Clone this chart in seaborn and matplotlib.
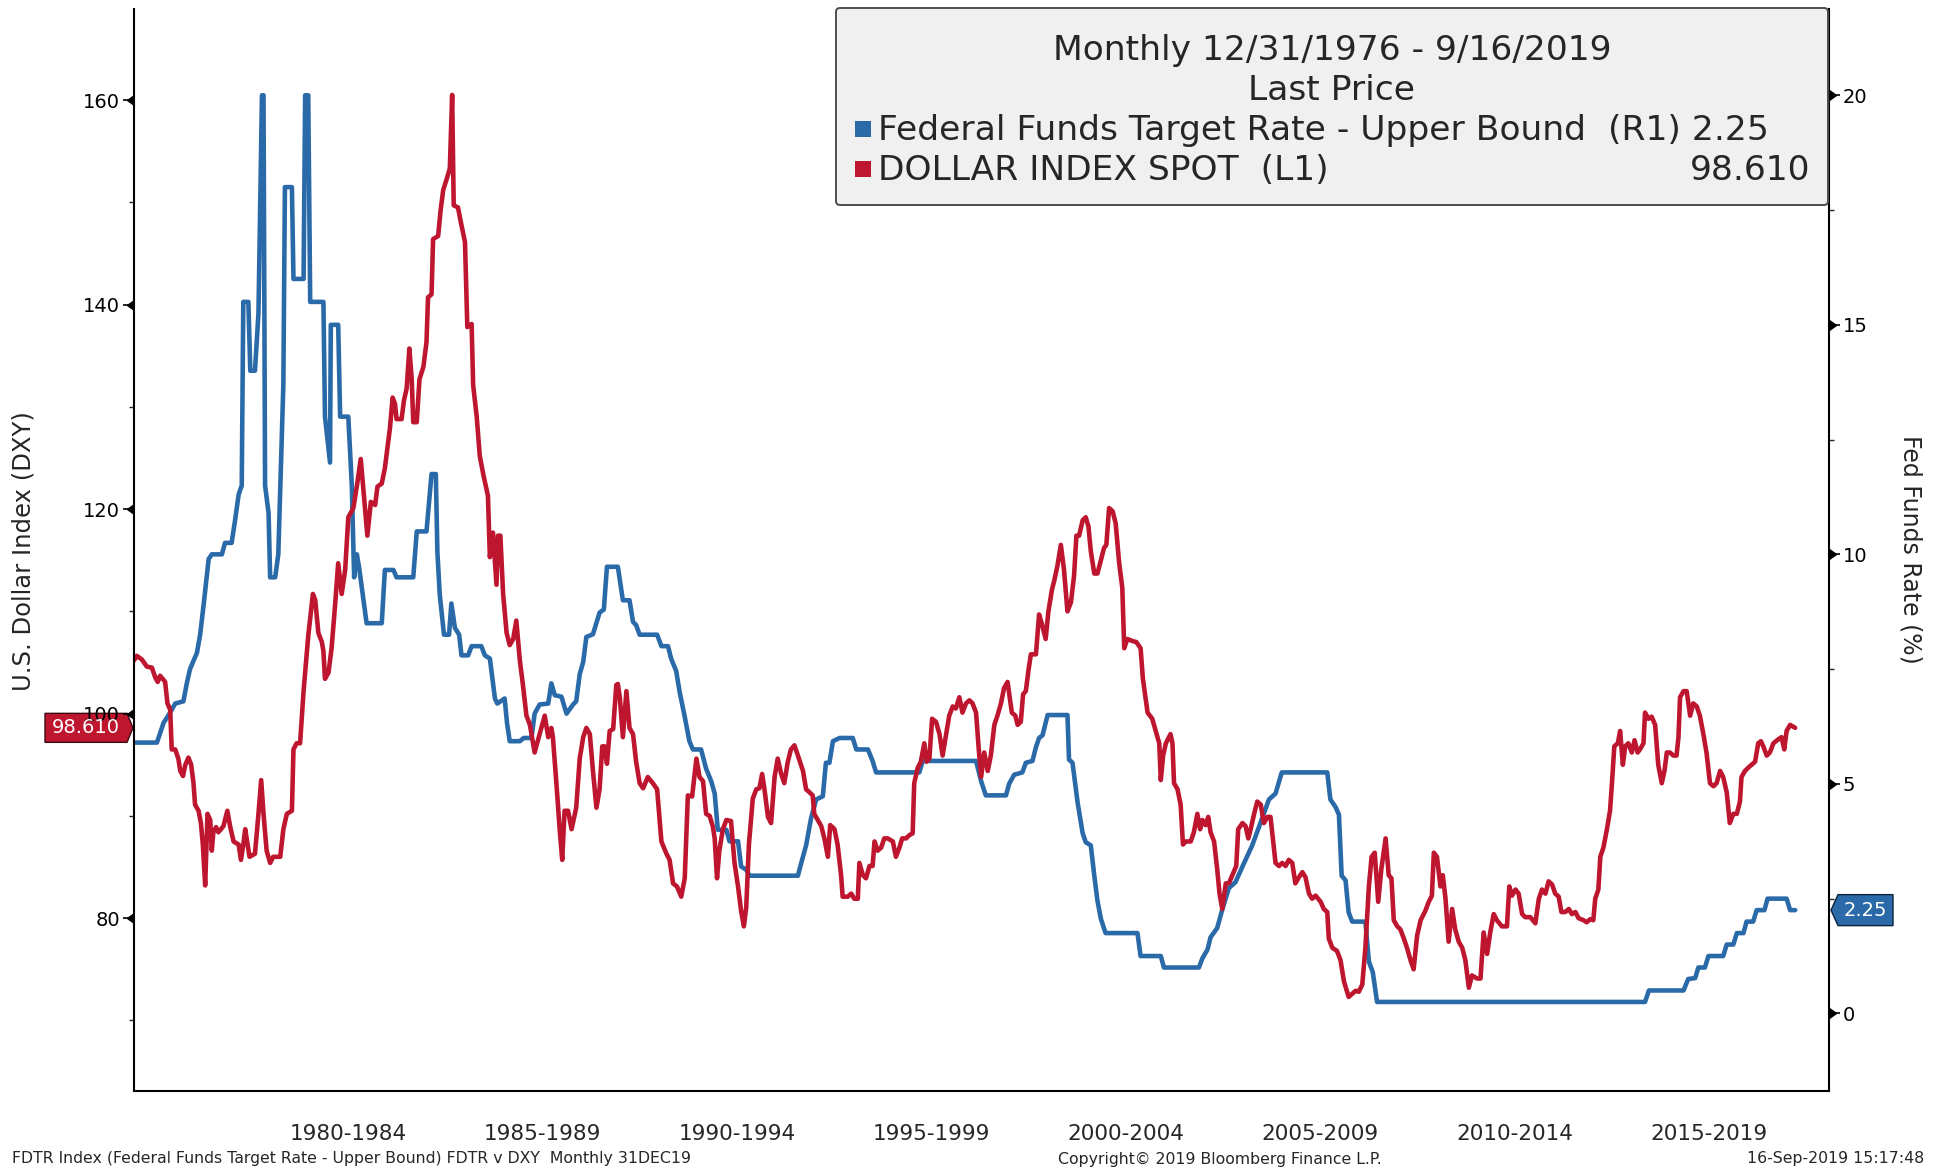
import numpy as np
import pandas as pd
import matplotlib
matplotlib.use("Agg")
import matplotlib.pyplot as plt
import seaborn as sns
from matplotlib.patches import Polygon, Rectangle, FancyBboxPatch
from matplotlib.transforms import IdentityTransform

# Fed funds target rate, upper bound (%), decimal years
fed_t = [1977.00, 1977.59, 1977.76, 1977.89, 1978.06, 1978.27, 1978.36, 1978.44, 1978.62, 1978.70,
         1978.79, 1978.92, 1979.00, 1979.26, 1979.34, 1979.51, 1979.60, 1979.69, 1979.77, 1979.81,
         1979.94, 1979.99, 1980.11, 1980.20, 1980.29, 1980.33, 1980.37, 1980.46, 1980.50, 1980.63,
         1980.71, 1980.84, 1980.88, 1981.06, 1981.10, 1981.36, 1981.40, 1981.48, 1981.53, 1981.87,
         1981.91, 1982.04, 1982.06, 1982.25, 1982.30, 1982.51, 1982.60, 1982.66, 1982.73, 1982.79,
         1982.98, 1983.37, 1983.45, 1983.67, 1983.75, 1984.18, 1984.27, 1984.52, 1984.65, 1984.76,
         1984.80, 1984.86, 1984.97, 1985.10, 1985.16, 1985.25, 1985.36, 1985.42, 1985.59, 1985.68,
         1985.93, 1986.02, 1986.15, 1986.28, 1986.34, 1986.53, 1986.59, 1986.66, 1986.92, 1987.02,
         1987.22, 1987.30, 1987.43, 1987.65, 1987.73, 1987.82, 1987.99, 1988.12, 1988.29, 1988.37,
         1988.46, 1988.55, 1988.63, 1988.80, 1988.97, 1989.08, 1989.16, 1989.44, 1989.57, 1989.74,
         1989.83, 1989.91, 1990.00, 1990.45, 1990.56, 1990.73, 1990.81, 1990.94, 1991.03, 1991.16,
         1991.28, 1991.37, 1991.58, 1991.71, 1991.84, 1991.93, 1992.01, 1992.23, 1992.31, 1992.53,
         1992.61, 1992.74, 1992.83, 1994.07, 1994.15, 1994.28, 1994.41, 1994.54, 1994.71, 1994.79,
         1994.88, 1994.97, 1995.14, 1995.48, 1995.57, 1995.87, 1995.99, 1996.08, 1997.19, 1997.28,
         1998.65, 1998.78, 1998.90, 1999.42, 1999.50, 1999.63, 1999.84, 1999.93, 2000.10, 2000.19,
         2000.27, 2000.36, 2000.49, 2001.00, 2001.04, 2001.13, 2001.26, 2001.39, 2001.47, 2001.60,
         2001.69, 2001.77, 2001.86, 2001.98, 2002.80, 2002.88, 2003.40, 2003.48, 2004.38, 2004.47,
         2004.60, 2004.68, 2004.85, 2004.98, 2005.15, 2005.32, 2005.50, 2005.75, 2006.01, 2006.18,
         2006.35, 2006.51, 2007.68, 2007.76, 2007.89, 2007.98, 2008.05, 2008.15, 2008.23, 2008.32,
         2008.66, 2008.75, 2008.85, 2008.96, 2015.85, 2015.95, 2016.84, 2016.96, 2017.14, 2017.22,
         2017.39, 2017.48, 2017.86, 2017.95, 2018.12, 2018.21, 2018.38, 2018.46, 2018.63, 2018.72,
         2018.92, 2019.00, 2019.49, 2019.58, 2019.71]
fed_v = [5.9, 5.9, 6.33, 6.5, 6.75, 6.8, 7.2, 7.5, 7.86, 8.25,
         8.9, 9.9, 10.0, 10.0, 10.25, 10.25, 10.75, 11.3, 11.5, 15.5,
         15.5, 14.0, 14.0, 15.25, 20.0, 20.0, 11.5, 10.9, 9.5, 9.5,
         10.0, 13.7, 18.0, 18.0, 16.0, 16.0, 20.0, 20.0, 15.5, 15.5,
         13.0, 12.0, 15.0, 15.0, 13.0, 13.0, 11.5, 9.5, 10.0, 9.7,
         8.5, 8.5, 9.66, 9.66, 9.5, 9.5, 10.5, 10.5, 11.75, 11.75,
         10.06, 9.13, 8.25, 8.25, 8.93, 8.4, 8.25, 7.8, 7.8, 8.0,
         8.0, 7.8, 7.73, 6.86, 6.75, 6.86, 6.33, 5.93, 5.93, 6.0,
         6.0, 6.53, 6.73, 6.75, 7.19, 6.93, 6.9, 6.53, 6.73, 6.8,
         7.39, 7.66, 8.2, 8.26, 8.73, 8.8, 9.73, 9.73, 9.0, 9.0,
         8.53, 8.46, 8.25, 8.25, 8.0, 8.0, 7.73, 7.46, 7.0, 6.46,
         5.93, 5.75, 5.75, 5.33, 5.06, 4.79, 4.0, 4.0, 3.75, 3.75,
         3.2, 3.13, 3.0, 3.0, 3.26, 3.66, 4.26, 4.66, 4.73, 5.46,
         5.46, 5.93, 6.0, 6.0, 5.75, 5.75, 5.5, 5.25, 5.25, 5.5,
         5.5, 5.06, 4.75, 4.75, 5.0, 5.2, 5.25, 5.46, 5.5, 5.8,
         6.0, 6.06, 6.5, 6.5, 5.53, 5.46, 4.6, 3.93, 3.73, 3.66,
         3.0, 2.46, 2.06, 1.75, 1.75, 1.25, 1.25, 1.0, 1.0, 1.2,
         1.39, 1.66, 1.86, 2.26, 2.73, 2.86, 3.2, 3.66, 4.26, 4.66,
         4.79, 5.25, 5.25, 4.66, 4.5, 4.33, 3.0, 2.9, 2.2, 2.0,
         2.0, 1.13, 0.9, 0.25, 0.25, 0.5, 0.5, 0.75, 0.77, 1.0,
         1.0, 1.25, 1.25, 1.5, 1.5, 1.75, 1.75, 2.0, 2.0, 2.25,
         2.25, 2.5, 2.5, 2.25, 2.25]

# Dollar index spot, decimal years
dxy_t = [1977.00, 1977.07, 1977.20, 1977.33, 1977.46, 1977.55, 1977.61, 1977.67, 1977.76, 1977.80,
         1977.86, 1977.93, 1977.97, 1978.06, 1978.14, 1978.19, 1978.26, 1978.32, 1978.40, 1978.47,
         1978.53, 1978.57, 1978.66, 1978.72, 1978.77, 1978.83, 1978.89, 1978.96, 1979.00, 1979.04,
         1979.11, 1979.17, 1979.30, 1979.40, 1979.47, 1979.56, 1979.69, 1979.75, 1979.81, 1979.86,
         1979.92, 1979.97, 1980.11, 1980.20, 1980.27, 1980.33, 1980.41, 1980.50, 1980.58, 1980.76,
         1980.84, 1980.93, 1981.06, 1981.10, 1981.18, 1981.27, 1981.36, 1981.48, 1981.60, 1981.66,
         1981.74, 1981.83, 1981.87, 1981.91, 1982.00, 1982.08, 1982.17, 1982.25, 1982.34, 1982.43,
         1982.51, 1982.64, 1982.74, 1982.83, 1982.94, 1983.00, 1983.09, 1983.20, 1983.26, 1983.37,
         1983.45, 1983.58, 1983.65, 1983.71, 1983.75, 1983.88, 1983.94, 1984.01, 1984.08, 1984.14,
         1984.18, 1984.27, 1984.34, 1984.44, 1984.52, 1984.56, 1984.65, 1984.69, 1984.82, 1984.88,
         1984.95, 1985.05, 1985.12, 1985.18, 1985.22, 1985.33, 1985.38, 1985.51, 1985.57, 1985.68,
         1985.72, 1985.81, 1985.89, 1985.98, 1986.10, 1986.15, 1986.23, 1986.32, 1986.36, 1986.42,
         1986.49, 1986.58, 1986.66, 1986.75, 1986.83, 1986.92, 1987.00, 1987.09, 1987.18, 1987.30,
         1987.43, 1987.56, 1987.65, 1987.73, 1987.77, 1987.86, 1987.95, 1988.01, 1988.07, 1988.16,
         1988.25, 1988.37, 1988.46, 1988.55, 1988.63, 1988.72, 1988.80, 1988.89, 1988.97, 1989.04,
         1989.10, 1989.16, 1989.23, 1989.32, 1989.40, 1989.44, 1989.49, 1989.57, 1989.66, 1989.74,
         1989.83, 1989.91, 1990.00, 1990.09, 1990.21, 1990.34, 1990.45, 1990.56, 1990.69, 1990.77,
         1990.86, 1990.96, 1991.07, 1991.16, 1991.24, 1991.35, 1991.46, 1991.54, 1991.63, 1991.71,
         1991.80, 1991.88, 1991.93, 1991.99, 1992.05, 1992.14, 1992.23, 1992.35, 1992.44, 1992.53,
         1992.61, 1992.68, 1992.74, 1992.81, 1992.91, 1993.00, 1993.08, 1993.15, 1993.21, 1993.30,
         1993.38, 1993.47, 1993.55, 1993.64, 1993.72, 1993.81, 1993.89, 1993.98, 1994.07, 1994.20,
         1994.28, 1994.37, 1994.45, 1994.49, 1994.58, 1994.67, 1994.75, 1994.84, 1994.90, 1995.01,
         1995.09, 1995.18, 1995.22, 1995.35, 1995.44, 1995.52, 1995.61, 1995.65, 1995.74, 1995.82,
         1995.91, 1995.99, 1996.04, 1996.12, 1996.21, 1996.29, 1996.38, 1996.51, 1996.59, 1996.68,
         1996.75, 1996.85, 1996.93, 1997.02, 1997.06, 1997.15, 1997.23, 1997.32, 1997.38, 1997.45,
         1997.52, 1997.62, 1997.71, 1997.79, 1997.88, 1997.96, 1998.05, 1998.13, 1998.22, 1998.30,
         1998.39, 1998.48, 1998.56, 1998.65, 1998.72, 1998.78, 1998.86, 1998.95, 1999.03, 1999.12,
         1999.20, 1999.29, 1999.37, 1999.46, 1999.57, 1999.66, 1999.72, 1999.80, 1999.86, 1999.93,
         2000.00, 2000.06, 2000.19, 2000.27, 2000.34, 2000.40, 2000.44, 2000.51, 2000.60, 2000.66,
         2000.74, 2000.83, 2000.91, 2001.00, 2001.09, 2001.17, 2001.23, 2001.30, 2001.39, 2001.47,
         2001.54, 2001.60, 2001.69, 2001.77, 2001.86, 2001.94, 2002.00, 2002.07, 2002.16, 2002.24,
         2002.33, 2002.41, 2002.46, 2002.54, 2002.67, 2002.77, 2002.88, 2002.94, 2003.06, 2003.18,
         2003.27, 2003.36, 2003.40, 2003.46, 2003.53, 2003.57, 2003.65, 2003.70, 2003.74, 2003.83,
         2003.91, 2003.97, 2004.04, 2004.17, 2004.25, 2004.34, 2004.41, 2004.47, 2004.55, 2004.62,
         2004.68, 2004.77, 2004.85, 2004.91, 2004.98, 2005.07, 2005.15, 2005.24, 2005.34, 2005.39,
         2005.50, 2005.58, 2005.65, 2005.71, 2005.80, 2005.88, 2005.97, 2006.05, 2006.14, 2006.22,
         2006.28, 2006.35, 2006.44, 2006.52, 2006.61, 2006.69, 2006.78, 2006.86, 2006.95, 2007.04,
         2007.12, 2007.21, 2007.29, 2007.38, 2007.51, 2007.59, 2007.68, 2007.72, 2007.81, 2007.93,
         2008.02, 2008.11, 2008.23, 2008.32, 2008.41, 2008.49, 2008.58, 2008.66, 2008.75, 2008.82,
         2008.90, 2008.99, 2009.07, 2009.18, 2009.26, 2009.33, 2009.39, 2009.48, 2009.56, 2009.65,
         2009.73, 2009.82, 2009.90, 2009.99, 2010.08, 2010.20, 2010.29, 2010.37, 2010.42, 2010.50,
         2010.59, 2010.65, 2010.72, 2010.80, 2010.89, 2010.97, 2011.06, 2011.15, 2011.23, 2011.32,
         2011.40, 2011.53, 2011.62, 2011.70, 2011.79, 2011.87, 2011.96, 2012.04, 2012.17, 2012.30,
         2012.36, 2012.43, 2012.52, 2012.60, 2012.69, 2012.77, 2012.90, 2013.03, 2013.12, 2013.20,
         2013.29, 2013.37, 2013.46, 2013.54, 2013.63, 2013.70, 2013.80, 2013.89, 2013.97, 2014.06,
         2014.14, 2014.27, 2014.35, 2014.44, 2014.52, 2014.57, 2014.65, 2014.70, 2014.78, 2014.87,
         2014.95, 2015.00, 2015.06, 2015.15, 2015.21, 2015.28, 2015.34, 2015.42, 2015.51, 2015.58,
         2015.66, 2015.72, 2015.81, 2015.85, 2015.94, 2016.02, 2016.11, 2016.19, 2016.28, 2016.35,
         2016.41, 2016.49, 2016.58, 2016.66, 2016.71, 2016.75, 2016.84, 2016.92, 2017.01, 2017.09,
         2017.18, 2017.26, 2017.35, 2017.43, 2017.52, 2017.61, 2017.69, 2017.78, 2017.86, 2017.95,
         2018.03, 2018.12, 2018.21, 2018.29, 2018.33, 2018.42, 2018.50, 2018.59, 2018.68, 2018.76,
         2018.83, 2018.89, 2018.98, 2019.06, 2019.15, 2019.28, 2019.36, 2019.43, 2019.49, 2019.58,
         2019.71]
dxy_v = [105.2, 105.65, 105.3, 104.6, 104.5, 103.5, 103.1, 103.7, 103.3, 103.1,
         101.0, 100.4, 96.5, 96.5, 95.6, 94.4, 93.9, 95.0, 95.7, 95.0,
         93.2, 91.1, 90.5, 89.3, 87.2, 83.2, 90.2, 89.6, 86.6, 88.4,
         88.9, 88.4, 89.0, 90.5, 89.0, 87.5, 87.2, 85.7, 87.2, 88.7,
         87.2, 86.0, 86.3, 90.2, 93.5, 90.2, 86.6, 85.4, 86.0, 86.0,
         88.7, 90.2, 90.5, 96.5, 97.1, 97.1, 102.2, 107.6, 111.7, 111.1,
         107.9, 107.0, 106.1, 103.4, 104.0, 106.4, 110.6, 114.7, 111.7, 114.1,
         119.2, 120.1, 122.5, 124.9, 120.1, 117.4, 120.7, 120.4, 122.2, 122.5,
         124.0, 127.9, 130.9, 130.3, 128.8, 128.8, 130.6, 131.8, 135.7, 132.7,
         128.5, 128.5, 132.7, 133.9, 136.3, 140.7, 141.0, 146.4, 146.7, 149.1,
         151.2, 152.4, 153.3, 160.5, 149.7, 149.5, 148.5, 146.1, 137.8, 138.1,
         132.1, 129.1, 125.2, 123.4, 121.3, 115.3, 117.7, 112.6, 117.4, 117.4,
         111.7, 107.9, 106.7, 107.3, 109.1, 105.2, 102.8, 99.8, 98.9, 96.2,
         98.0, 99.8, 97.7, 98.6, 97.7, 93.2, 88.4, 85.7, 90.5, 90.5,
         88.7, 90.8, 95.6, 97.7, 98.6, 98.0, 94.4, 90.8, 92.6, 96.8,
         96.8, 95.1, 98.3, 98.5, 102.8, 102.9, 101.6, 97.7, 102.2, 98.6,
         98.0, 95.3, 93.2, 92.7, 93.8, 93.2, 92.6, 87.5, 86.3, 85.7,
         83.4, 83.1, 82.1, 83.9, 92.0, 91.9, 95.6, 93.8, 93.4, 90.2,
         90.0, 89.0, 87.8, 83.9, 86.6, 88.7, 89.6, 89.5, 85.4, 83.1,
         80.7, 79.2, 81.0, 87.2, 91.7, 92.6, 92.7, 94.1, 92.6, 89.9,
         89.3, 93.8, 95.6, 94.1, 93.2, 95.3, 96.5, 96.9, 95.9, 94.4,
         92.6, 92.3, 92.0, 90.2, 89.6, 89.0, 87.8, 86.0, 89.1, 88.7,
         87.2, 84.2, 82.1, 82.1, 82.4, 81.9, 81.9, 85.4, 84.2, 83.9,
         85.1, 85.1, 87.5, 86.6, 86.9, 87.8, 87.8, 87.5, 86.0, 86.9,
         87.8, 87.8, 88.1, 88.3, 93.2, 94.7, 95.3, 97.1, 95.3, 95.6,
         99.5, 99.2, 98.0, 95.9, 98.0, 99.8, 100.7, 100.5, 101.6, 100.1,
         101.0, 101.3, 101.0, 100.1, 96.5, 93.8, 96.2, 94.4, 95.9, 98.9,
         99.8, 101.0, 102.5, 103.1, 100.1, 99.8, 98.9, 99.2, 101.9, 102.2,
         104.3, 105.8, 105.8, 109.7, 108.8, 107.9, 107.3, 110.0, 112.1, 113.0,
         114.4, 116.5, 114.1, 110.0, 110.9, 113.5, 117.4, 117.4, 118.9, 119.2,
         118.3, 115.9, 113.7, 113.7, 115.0, 116.2, 116.5, 120.1, 119.8, 118.6,
         114.7, 112.3, 106.4, 107.3, 107.1, 107.0, 106.4, 103.4, 100.1, 99.5,
         98.3, 97.1, 93.5, 95.9, 97.1, 97.4, 98.0, 97.1, 93.2, 92.6,
         91.1, 87.2, 87.5, 87.5, 88.4, 90.2, 88.7, 89.6, 89.1, 89.9,
         88.4, 87.5, 84.8, 82.4, 80.9, 83.4, 83.4, 84.2, 85.1, 88.7,
         89.3, 89.0, 87.8, 88.7, 90.2, 91.4, 91.1, 89.3, 89.9, 89.9,
         87.8, 85.4, 85.1, 85.4, 85.1, 85.7, 85.4, 83.4, 84.0, 84.5,
         84.0, 82.4, 81.9, 82.2, 81.6, 80.9, 80.6, 78.0, 77.1, 76.8,
         75.9, 73.8, 72.3, 72.6, 72.9, 72.8, 73.5, 77.1, 83.1, 86.0,
         86.4, 81.6, 84.8, 87.8, 84.2, 83.9, 79.8, 79.2, 78.9, 78.0,
         77.1, 75.9, 75.0, 78.3, 79.8, 80.7, 81.6, 82.2, 86.4, 86.0,
         83.1, 84.2, 81.9, 77.7, 80.9, 78.9, 77.7, 77.1, 75.9, 73.2,
         74.4, 74.1, 74.1, 78.6, 76.5, 78.6, 80.4, 79.8, 79.2, 79.2,
         83.1, 82.2, 82.8, 82.4, 80.4, 80.1, 80.1, 79.5, 81.9, 82.8,
         82.4, 83.6, 83.3, 82.4, 82.1, 80.6, 80.6, 80.9, 80.4, 80.6,
         80.0, 79.8, 79.6, 79.9, 79.8, 81.9, 82.8, 86.0, 86.9, 88.7,
         90.5, 93.2, 96.8, 97.1, 98.3, 95.0, 96.8, 97.1, 96.2, 97.4,
         96.2, 96.5, 97.1, 100.1, 99.5, 99.7, 98.9, 95.0, 93.2, 94.4,
         96.2, 96.2, 95.9, 95.9, 97.7, 101.6, 102.2, 102.2, 99.8, 101.0,
         100.7, 99.8, 98.0, 96.2, 93.2, 92.9, 93.2, 94.4, 93.8, 92.3,
         89.3, 90.2, 90.2, 91.4, 93.8, 94.4, 94.7, 95.0, 95.3, 97.1,
         97.3, 96.8, 95.9, 96.2, 97.1, 97.5, 97.7, 96.5, 98.3, 98.9,
         98.61]

period_centers = [1982.5, 1987.5, 1992.5, 1997.5, 2002.5, 2007.5, 2012.5, 2017.5]
period_labels = ["1980-1984", "1985-1989", "1990-1994", "1995-1999",
                 "2000-2004", "2005-2009", "2010-2014", "2015-2019"]
dxy_ticks = [80, 100, 120, 140, 160]
dxy_minor = [70, 90, 110, 130, 150]
fed_ticks = [0, 5, 10, 15, 20]
fed_minor = [2.5, 7.5, 12.5, 17.5]
last_fed = "2.25"
last_dxy = "98.610"

BLUE = "#2b6aa8"
RED = "#bf1630"

sns.set_style("white")
plt.rcParams["font.family"] = ["DejaVu Sans"]

W, H = 1940, 1168
fig = plt.figure(figsize=(W / 100, H / 100), dpi=100)
L, R, T, B = 134, 1829, 9, 1091
ax = fig.add_axes([L / W, 1 - B / H, (R - L) / W, (B - T) / H])
ax2 = ax.twinx()

dxy = pd.DataFrame({"t": dxy_t, "dxy": dxy_v})
fed = pd.DataFrame({"t": fed_t, "rate": fed_v})
sns.lineplot(data=fed, x="t", y="rate", ax=ax2, color=BLUE, linewidth=3.3)
sns.lineplot(data=dxy, x="t", y="dxy", ax=ax, color=RED, linewidth=3.3)
ax.set_zorder(ax2.get_zorder() + 1)
ax.patch.set_visible(False)

# spines
for a in (ax, ax2):
    for s in a.spines.values():
        s.set_visible(False)
        s.set_color("black")
        s.set_linewidth(1.5)
ax.spines["left"].set_visible(True)
ax.spines["bottom"].set_visible(True)
ax2.spines["right"].set_visible(True)

# y ticks
ax.set_yticks(dxy_ticks)
ax.set_yticks(dxy_minor, minor=True)
ax.tick_params(axis="y", which="major", length=8, width=1.2, labelsize=14, pad=2, colors="black")
ax.tick_params(axis="y", which="minor", length=3.6, width=1)
ax2.set_yticks(fed_ticks)
ax2.set_yticks(fed_minor, minor=True)
ax2.tick_params(axis="y", which="major", length=8, width=1.2, labelsize=14, pad=2, colors="black")
ax2.tick_params(axis="y", which="minor", length=3.6, width=1)
ax.plot(np.zeros(len(dxy_ticks)), dxy_ticks, transform=ax.get_yaxis_transform(), ls="none",
        marker=8, ms=7, color="black", clip_on=False)
ax2.plot(np.ones(len(fed_ticks)), fed_ticks, transform=ax2.get_yaxis_transform(), ls="none",
         marker=9, ms=7, color="black", clip_on=False)

# x ticks: yearly minor, 5-year separators
ax.set_xticks(range(1980, 2021, 5))
ax.set_xticks(range(1977, 2021), minor=True)
ax.tick_params(axis="x", which="major", length=38, width=1, color="#9a9a9a", labelbottom=False)
ax.tick_params(axis="x", which="minor", length=3.6, width=1, color="black")
for c, lab in zip(period_centers, period_labels):
    ax.text(c, -0.0397, lab, transform=ax.get_xaxis_transform(), ha="center", va="center",
            fontsize=15.5)

ax.set_xlim(1977.0, 2020.58)
ax.set_ylim(63.1, 168.9)
ax2.set_ylim(-1.69, 21.88)
ax.set_xlabel("")
ax.set_ylabel("")
ax2.set_ylabel("")

fig.text(24 / W, 1 - 551 / H, "U.S. Dollar Index (DXY)", rotation=90, ha="center", va="center",
         fontsize=17.5)
fig.text(1911 / W, 1 - 549 / H, "Fed Funds Rate (%)", rotation=270, ha="center", va="center",
         fontsize=17)

# last value tags
px = IdentityTransform()
yc = ax.transData.transform((2000, float(last_dxy)))[1]
fig.add_artist(Polygon([(45, yc - 14.5), (127, yc - 14.5), (133, yc), (127, yc + 14.5), (45, yc + 14.5)],
                       closed=True, facecolor=RED, edgecolor="#3a0a10", lw=1, transform=px))
fig.text(86, yc, last_dxy, transform=px, ha="center", va="center", color="white", fontsize=14)
yc2 = ax2.transData.transform((2000, float(last_fed)))[1]
fig.add_artist(Polygon([(1831, yc2), (1838, yc2 + 15.5), (1893, yc2 + 15.5), (1893, yc2 - 15.5), (1838, yc2 - 15.5)],
                       closed=True, facecolor=BLUE, edgecolor="#0d2238", lw=1, transform=px))
fig.text(1865, yc2, last_fed, transform=px, ha="center", va="center", color="white", fontsize=14)

# legend box
fig.add_artist(FancyBboxPatch((836, H - 205), 992, 197, boxstyle="round,pad=0,rounding_size=4",
                              facecolor="#f0f0f0", edgecolor="#4d4d4d", lw=1.4, transform=px))
fs = 24.8
fig.text(1332, H - 60, "Monthly 12/31/1976 - 9/16/2019", transform=px, ha="center", va="baseline", fontsize=fs)
fig.text(1332, H - 100, "Last Price", transform=px, ha="center", va="baseline", fontsize=fs)
fig.add_artist(Rectangle((855, H - 137), 16, 16, facecolor=BLUE, edgecolor="none", transform=px))
fig.text(878, H - 140, "Federal Funds Target Rate - Upper Bound  (R1) " + last_fed, transform=px,
         ha="left", va="baseline", fontsize=fs)
fig.add_artist(Rectangle((855, H - 177), 16, 16, facecolor=RED, edgecolor="none", transform=px))
fig.text(878, H - 180, "DOLLAR INDEX SPOT  (L1)", transform=px, ha="left", va="baseline", fontsize=fs)
fig.text(1810, H - 180, last_dxy, transform=px, ha="right", va="baseline", fontsize=fs)

# footer
fig.text(12, H - 1159, "FDTR Index (Federal Funds Target Rate - Upper Bound) FDTR v DXY  Monthly 31DEC19",
         transform=px, ha="left", va="center", fontsize=11.3)
fig.text(1220, H - 1159, "Copyright\u00a9 2019 Bloomberg Finance L.P.", transform=px, ha="center",
         va="center", fontsize=11.3)
fig.text(1924, H - 1159, "16-Sep-2019 15:17:48", transform=px, ha="right", va="center", fontsize=11.3)

fig.savefig("out.png", dpi=100)
